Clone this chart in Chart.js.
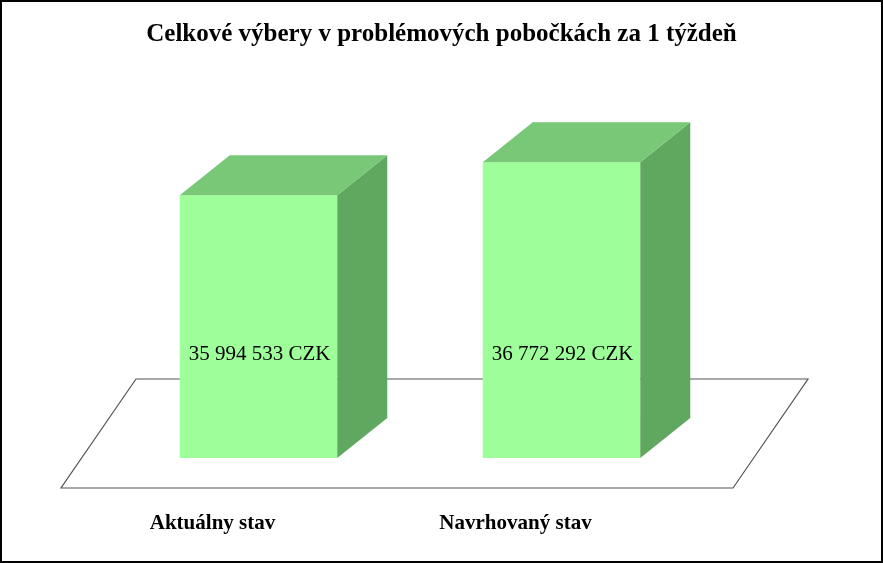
<!DOCTYPE html>
<html>
<head>
<meta charset="utf-8">
<script src="https://cdn.jsdelivr.net/npm/chart.js@4/dist/chart.umd.min.js"></script>
<style>
  html, body { margin: 0; padding: 0; background: #fff; }
  #wrap { width: 883px; height: 563px; position: relative; box-sizing: border-box; border: 2px solid #000; }
</style>
</head>
<body>
<div id="wrap"><canvas id="c" width="879" height="559"></canvas></div>
<script>
const TITLE = "Celkové výbery v problémových pobočkách za 1 týždeň";
const CATEGORIES = ["Aktuálny stav", "Navrhovaný stav"];
const VALUES = [35994533, 36772292];
const VALUE_LABELS = ["35 994 533 CZK", "36 772 292 CZK"];

const DEPTH_X = 50, DEPTH_Y = 40;
const SERIF = '"Liberation Serif", "Times New Roman", serif';

// floor, side and top faces of the boxes
const box3d = {
  id: "box3d",
  beforeDatasetsDraw(chart) {
    const { ctx, chartArea: a } = chart;
    ctx.save();
    ctx.beginPath();
    ctx.moveTo(a.left - 46, a.bottom + 30);
    ctx.lineTo(a.right + 20, a.bottom + 30);
    ctx.lineTo(a.right + 95, a.bottom - 79);
    ctx.lineTo(a.left + 29, a.bottom - 79);
    ctx.closePath();
    ctx.fillStyle = "#fff";
    ctx.fill();
    ctx.strokeStyle = "#555";
    ctx.lineWidth = 1.2;
    ctx.stroke();
    ctx.restore();
  },
  afterDatasetsDraw(chart) {
    const { ctx, chartArea: a } = chart;
    const meta = chart.getDatasetMeta(0);
    ctx.save();
    meta.data.forEach((bar, i) => {
      const l = bar.x - bar.width / 2, r = bar.x + bar.width / 2;
      const t = bar.y, b = a.bottom;
      ctx.beginPath();
      ctx.moveTo(r, t); ctx.lineTo(r + DEPTH_X, t - DEPTH_Y);
      ctx.lineTo(r + DEPTH_X, b - DEPTH_Y); ctx.lineTo(r, b); ctx.closePath();
      ctx.fillStyle = "#60a860"; ctx.fill();
      ctx.beginPath();
      ctx.moveTo(l, t); ctx.lineTo(l + DEPTH_X, t - DEPTH_Y);
      ctx.lineTo(r + DEPTH_X, t - DEPTH_Y); ctx.lineTo(r, t); ctx.closePath();
      ctx.fillStyle = "#78c878"; ctx.fill();
      ctx.fillStyle = "#000";
      ctx.font = "21px " + SERIF;
      ctx.textAlign = "center"; ctx.textBaseline = "middle";
      ctx.fillText(VALUE_LABELS[i], bar.x + 1, 352);
      ctx.font = "bold 21px " + SERIF;
      ctx.fillText(CATEGORIES[i], bar.x - 46, 522);
    });
    ctx.font = "bold 25px " + SERIF;
    ctx.textAlign = "center";
    ctx.fillText(TITLE, chart.width / 2, 33);
    ctx.restore();
  }
};

new Chart(document.getElementById("c"), {
  type: "bar",
  data: {
    labels: CATEGORIES,
    datasets: [{
      data: VALUES,
      backgroundColor: "#9eff9a",
      borderWidth: 0,
      categoryPercentage: 1,
      barPercentage: 0.52
    }]
  },
  options: {
    responsive: false,
    animation: false,
    layout: { padding: { left: 105, right: 168, top: 98, bottom: 103 } },
    scales: {
      x: { display: false },
      y: { display: false, min: 29800000, max: 38240000 }
    },
    plugins: { legend: { display: false }, tooltip: { enabled: false } }
  },
  plugins: [box3d]
});
</script>
</body>
</html>
